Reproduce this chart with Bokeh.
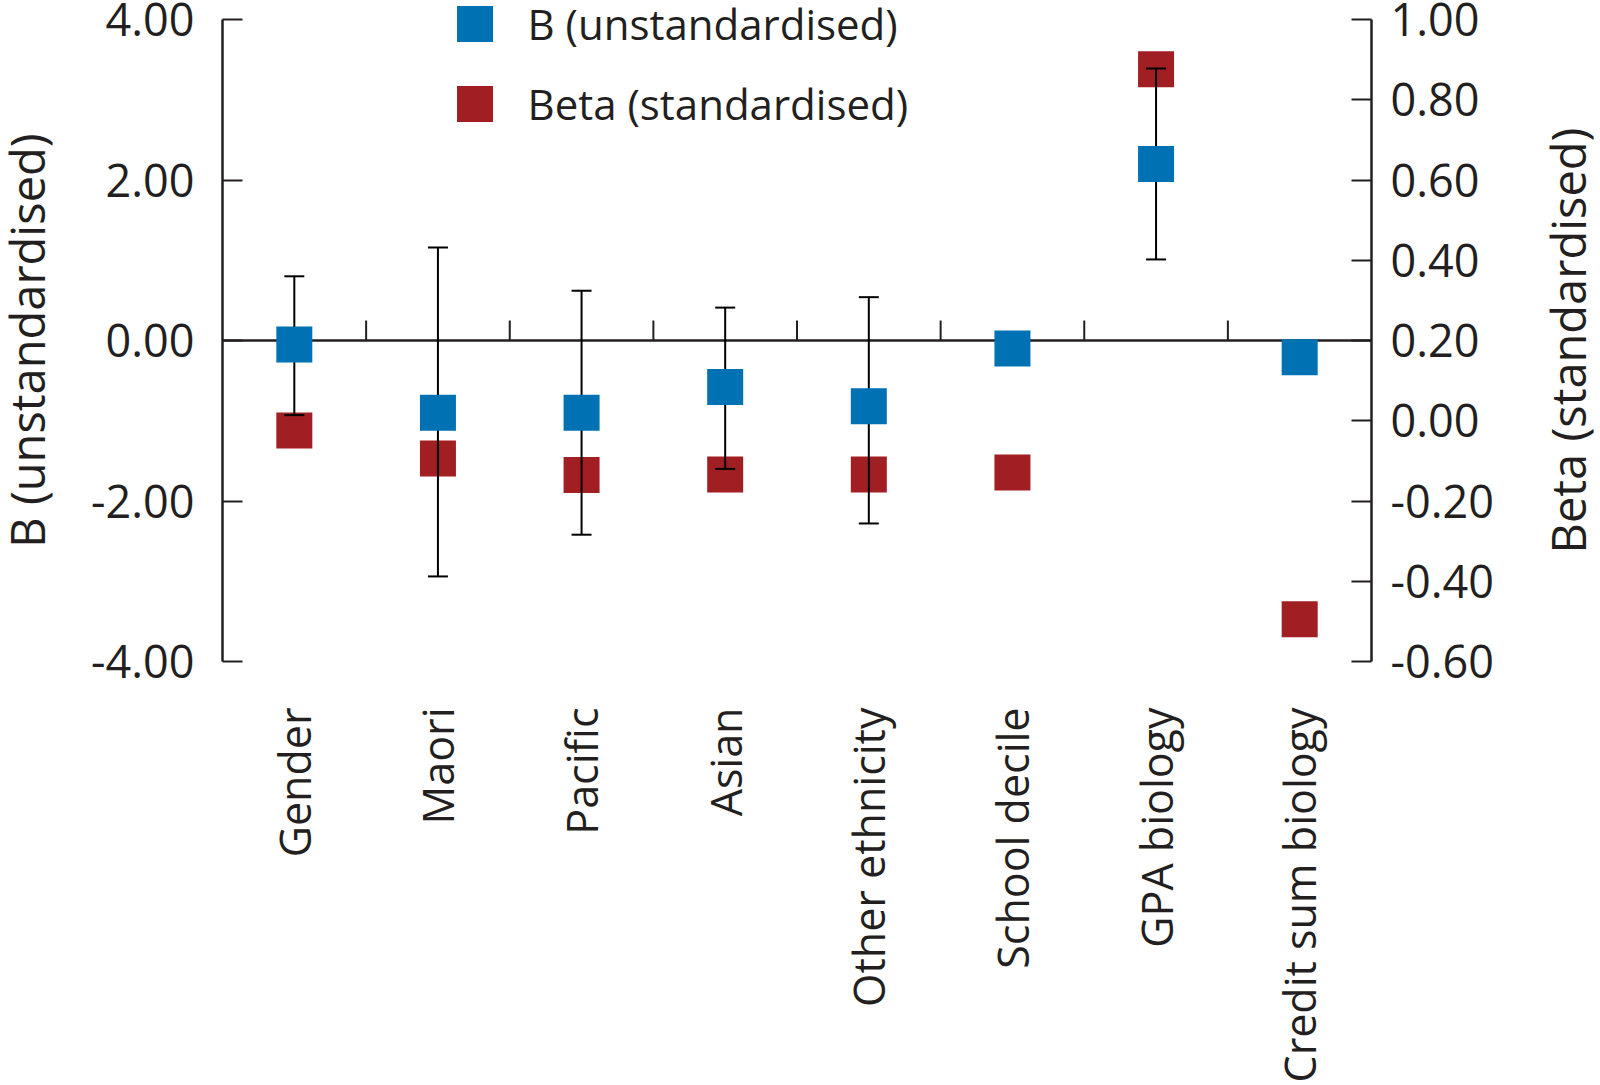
import numpy as np
from bokeh.plotting import figure
from bokeh.models import (Range1d, LinearAxis, FixedTicker, ColumnDataSource, Whisker,
                          TeeHead, Legend, LegendItem, NumeralTickFormatter, Label)
from bokeh.embed import file_html
from bokeh.resources import INLINE

# ---------------- data ----------------
categories = ["Gender", "Maori", "Pacific", "Asian", "Other ethnicity",
              "School decile", "GPA biology", "Credit sum biology"]
b_values = [-0.05, -0.90, -0.90, -0.58, -0.82, -0.10, 2.20, -0.21]
b_lower = [-0.93, -2.94, -2.42, -1.60, -2.28, None, 1.01, None]
b_upper = [0.80, 1.16, 0.62, 0.41, 0.54, None, 3.39, None]
beta_values = [-0.024, -0.094, -0.135, -0.134, -0.134, -0.129, 0.876, -0.495]
left_ticks = [-4.0, -2.0, 0.0, 2.0, 4.0]
right_ticks = [-0.6, -0.4, -0.2, 0.0, 0.2, 0.4, 0.6, 0.8, 1.0]
series_names = ["B (unstandardised)", "Beta (standardised)"]

BLUE = "#0071b3"
RED = "#a11f22"
INK = "#231f20"
FONT = "Open Sans"

# ---------------- layout (pixels) ----------------
W, H = 1600, 1085
PL, PR, PT, PB = 222, 1371, 19, 661   # where the axes sit on the page
n = len(categories)
xs = [i + 0.5 for i in range(n)]

lo_l, hi_l = left_ticks[0], left_ticks[-1]
lo_r, hi_r = right_ticks[0], right_ticks[-1]
xpp = n / (PR - PL)
ypp_l = (hi_l - lo_l) / (PB - PT)
ypp_r = (hi_r - lo_r) / (PB - PT)

src = ColumnDataSource(dict(x=xs, b=b_values, beta=beta_values, cat=categories))
wx = [x for x, lo in zip(xs, b_lower) if lo is not None]
wlo = [lo for lo in b_lower if lo is not None]
whi = [hi for hi in b_upper if hi is not None]
wsrc = ColumnDataSource(dict(x=wx, lower=wlo, upper=whi))

p = figure(width=W, height=H, output_backend="svg", toolbar_location=None,
           x_range=Range1d(-PL * xpp, n + (W - PR) * xpp),
           y_range=Range1d(lo_l - (H - PB) * ypp_l, hi_l + PT * ypp_l),
           min_border_left=0, min_border_right=0, min_border_top=0,
           min_border_bottom=0, outline_line_color=None)
p.xgrid.visible = False
p.ygrid.visible = False
p.background_fill_color = "white"
p.border_fill_color = "white"
p.extra_y_ranges = {"beta": Range1d(lo_r - (H - PB) * ypp_r, hi_r + PT * ypp_r)}

# bottom (category) axis, placed at the bottom of the y axes
xa = p.xaxis[0]
xa.fixed_location = lo_l
xa.ticker = FixedTicker(ticks=xs)
xa.major_label_overrides = {x: c for x, c in zip(xs, categories)}
xa.major_label_orientation = np.pi / 2
xa.axis_line_color = None
xa.major_tick_line_color = None
xa.major_tick_out = 0
xa.major_tick_in = 0
xa.minor_tick_line_color = None
xa.major_label_standoff = 46
xa.major_label_text_font = FONT
xa.major_label_text_font_size = "43px"
xa.major_label_text_color = INK


def style_y(ax, standoff):
    ax.major_tick_in = 20
    ax.major_tick_out = 0
    ax.minor_tick_line_color = None
    ax.axis_line_width = 2.5
    ax.axis_line_color = INK
    ax.major_tick_line_width = 2
    ax.major_tick_line_color = INK
    ax.major_label_standoff = standoff
    ax.major_label_text_font = FONT
    ax.major_label_text_font_size = "45px"
    ax.major_label_text_color = INK


# left axis
ya = p.yaxis[0]
ya.fixed_location = 0
ya.ticker = FixedTicker(ticks=left_ticks)
ya.formatter = NumeralTickFormatter(format="0.00")
ya.bounds = (lo_l, hi_l)
style_y(ya, 28)

# right axis
ra = LinearAxis(y_range_name="beta", ticker=FixedTicker(ticks=right_ticks),
                formatter=NumeralTickFormatter(format="0.00"), bounds=(lo_r, hi_r),
                fixed_location=n)
style_y(ra, 19)
p.add_layout(ra, "right")

# axis titles (both read bottom-to-top)
for txt, sx in [(series_names[0], 26), (series_names[1], 1567)]:
    p.add_layout(Label(x=sx, y=0, x_units="screen", y_units="data", text=txt,
                       angle=np.pi / 2, text_align="center", text_baseline="middle",
                       text_font=FONT, text_font_size="47px", text_color=INK))

# zero line with category-boundary ticks
p.segment(x0=[0], y0=[0], x1=[n], y1=[0], line_color=INK, line_width=2.5)
bounds = list(range(1, n))
p.segment(x0=bounds, y0=[0] * len(bounds), x1=bounds,
          y1=[20 * ypp_l] * len(bounds), line_color=INK, line_width=2)

# beta squares (right axis)
red_r = p.rect(x="x", y="beta", width=36, height=36, width_units="screen",
               height_units="screen", source=src, y_range_name="beta",
               fill_color=RED, line_color=None)

# error bars of B
wh = Whisker(base="x", lower="lower", upper="upper", source=wsrc,
             line_color="black", line_width=2, level="annotation",
             upper_head=TeeHead(size=20, line_width=2, line_color="black"),
             lower_head=TeeHead(size=20, line_width=2, line_color="black"))
p.add_layout(wh)

# B squares (left axis)
blue_r = p.rect(x="x", y="b", width=36, height=36, width_units="screen",
                height_units="screen", source=src,
                fill_color=BLUE, line_color=None)
blue_r.level = "overlay"

legend = Legend(items=[LegendItem(label=series_names[0], renderers=[blue_r]),
                       LegendItem(label=series_names[1], renderers=[red_r])],
                location=(451.5, 952), orientation="vertical",
                glyph_width=45, glyph_height=45, label_height=60,
                label_standoff=31, spacing=20, padding=0, margin=0,
                border_line_color=None, background_fill_alpha=0,
                label_text_font=FONT, label_text_font_size="42px",
                label_text_color=INK)
p.add_layout(legend)

open("out.html", "w").write(file_html(p, INLINE))
